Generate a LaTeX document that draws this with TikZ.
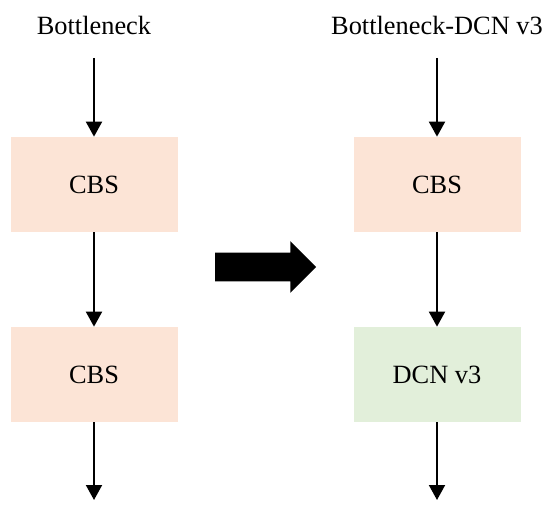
\documentclass[tikz,border=0pt]{standalone}
\usepackage{fontspec}
\setmainfont{Liberation Serif}
\usetikzlibrary{arrows.meta,shapes.arrows}

\begin{document}
\begin{tikzpicture}[
    blk/.style={minimum width=3.34cm, minimum height=1.9cm, inner sep=0pt, font=\fontsize{15}{18}\selectfont},
    flow/.style={-{Triangle[width=0.32cm,length=0.3cm]}, line width=1.1pt},
    ]

    \useasboundingbox (0,0) rectangle (11,10.24);

    % left: bottleneck
    \node (t1)  at ( 1.88, 9.74) [font=\fontsize{15}{18}\selectfont] {Bottleneck};
    \coordinate (in1) at ( 1.88, 9.08);
    \node (cbs1) at ( 1.88, 6.55) [blk, fill={rgb,255:red,252;green,228;blue,214}] {CBS};
    \node (cbs2) at ( 1.88, 2.75) [blk, fill={rgb,255:red,252;green,228;blue,214}] {CBS};
    \coordinate (out1) at ( 1.88, 0.24);

    \draw[flow] (in1) -- (cbs1.north);
    \draw[flow] (cbs1.south) -- (cbs2.north);
    \draw[flow] (cbs2.south) -- (out1);

    % big arrow
    \node (go) at ( 5.17, 4.9) [single arrow, fill=black, minimum height=2.02cm,
        inner xsep=0pt, inner ysep=0.28cm, single arrow head extend=0.23cm, outer sep=0pt] {};

    % right: bottleneck-dcn v3
    \node (t2)  at ( 8.74, 9.74) [font=\fontsize{15}{18}\selectfont] {Bottleneck-DCN v3};
    \coordinate (in2) at ( 8.74, 9.08);
    \node (cbs3) at ( 8.74, 6.55) [blk, fill={rgb,255:red,252;green,228;blue,214}] {CBS};
    \node (dcn) at ( 8.74, 2.75) [blk, fill={rgb,255:red,226;green,239;blue,218}] {DCN v3};
    \coordinate (out2) at ( 8.74, 0.24);

    \draw[flow] (in2) -- (cbs3.north);
    \draw[flow] (cbs3.south) -- (dcn.north);
    \draw[flow] (dcn.south) -- (out2);

\end{tikzpicture}
\end{document}
